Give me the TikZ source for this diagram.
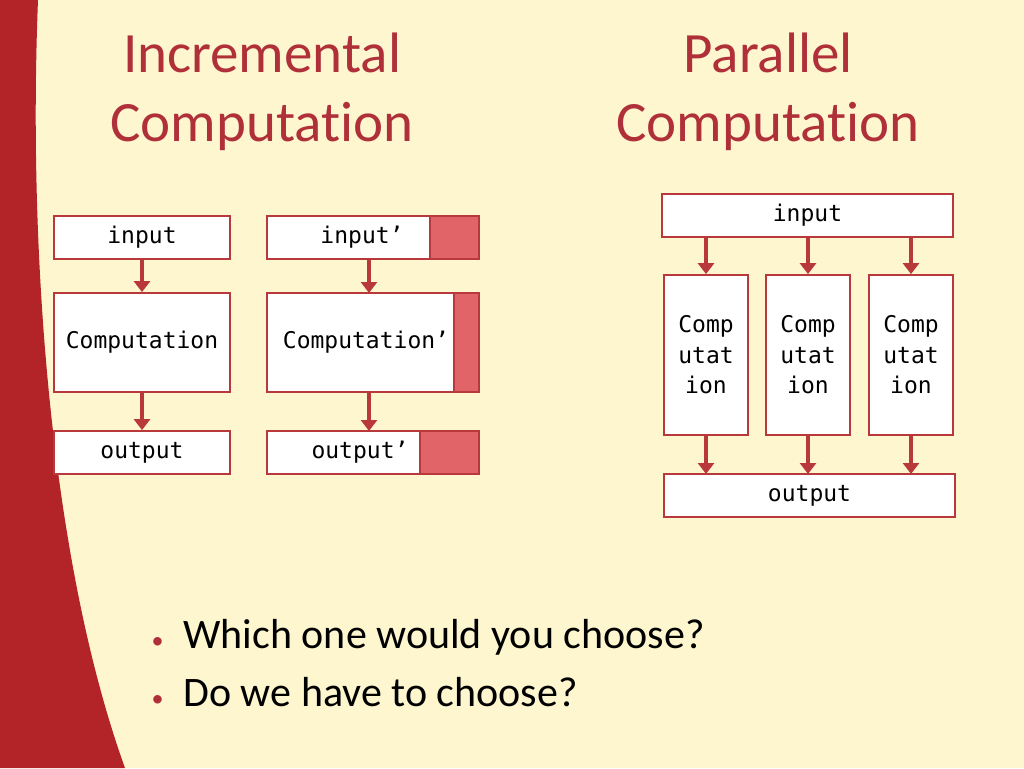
\documentclass[tikz,border=0pt]{standalone}
\usepackage{fontspec}
\setmainfont{Carlito}[RawFeature={-liga;-clig;-calt}]
\newfontfamily\monof{DejaVu Sans Mono}
\usetikzlibrary{arrows.meta}
\definecolor{bg}{HTML}{FDF6CE}
\definecolor{dred}{HTML}{B22428}
\definecolor{bred}{HTML}{B8383C}
\definecolor{fred}{HTML}{E06468}
\definecolor{tred}{HTML}{B0303A}
\tikzset{
 bx/.style={draw=bred,line width=1.8pt,fill=white},
 fl/.style={draw=bred,line width=1.8pt,fill=fred},
 lbl/.style={font=\monof\fontsize{23}{27}\selectfont,align=center},
 ar/.style={draw=bred,line width=4pt,-{Triangle[width=16pt,length=11pt]}},
 ttl/.style={font=\fontsize{57}{69}\selectfont,text=tred,align=center},
 bul/.style={font=\fontsize{42}{46}\selectfont,anchor=west}
}
\begin{document}
\begin{tikzpicture}[x=1pt,y=-1pt]
\fill[bg] (0,0) rectangle (1024,768);
\useasboundingbox (0,0) rectangle (1024,768);
\fill[dred] (0,0) -- (38,0) .. controls (28,250) and (50,560) .. (125,768) -- (0,768) -- cycle;
\node[ttl] (t1) at (262,92) {Incremental\\Computation};
\node[ttl] (t2) at (768,92) {Parallel\\Computation};
% left column
\node[bx,minimum width=176,minimum height=43] (i1) at (142,237.5) {};
\node[lbl] at (i1) {input};
\node[bx,minimum width=176,minimum height=99] (c1) at (142,342.5) {};
\node[lbl] at (c1) {Computation};
\node[bx,minimum width=176,minimum height=43] (o1) at (142,452.5) {};
\node[lbl] at (o1) {output};
\draw[ar] (i1) -- (c1);
\draw[ar] (c1) -- (o1);
% second column
\node[bx,minimum width=212,minimum height=43] (i2) at (373,237.5) {};
\draw[fl] (430,216) rectangle (479,259);
\node[lbl] at (362,237.5) {input’};
\node[bx,minimum width=212,minimum height=99] (c2) at (373,342.5) {};
\draw[fl] (454,293) rectangle (479,392);
\node[lbl] at (366,342.5) {Computation’};
\node[bx,minimum width=212,minimum height=43] (o2) at (373,452.5) {};
\draw[fl] (420,431) rectangle (479,474);
\node[lbl] at (360,452.5) {output’};
\draw[ar] (369,259) -- (369,293);
\draw[ar] (369,392) -- (369,431);
% right
\node[bx,minimum width=291,minimum height=43] (pi) at (807.5,215.5) {};
\node[lbl] at (pi) {input};
\node[bx,minimum width=291,minimum height=43] (po) at (809.5,495.5) {};
\node[lbl] at (po) {output};
\foreach \n/\x in {a/706,b/808,c/911}{
 \node[bx,minimum width=84,minimum height=160] (p\n) at (\x,355) {};
 \node[lbl,font=\monof\fontsize{23}{30.5}\selectfont] at (p\n) {Comp\\utat\\ion};
 \draw[ar] (\x,237) -- (p\n.north);
 \draw[ar] (p\n.south) -- (\x,474);
}
\node[bul] (b1) at (148,637) {\textcolor{tred}{\fontsize{24}{24}\selectfont•}\hspace{20pt}Which one would you choose?};
\node[bul] (b2) at (148,692) {\textcolor{tred}{\fontsize{24}{24}\selectfont•}\hspace{20pt}Do we have to choose?};
\end{tikzpicture}
\end{document}
